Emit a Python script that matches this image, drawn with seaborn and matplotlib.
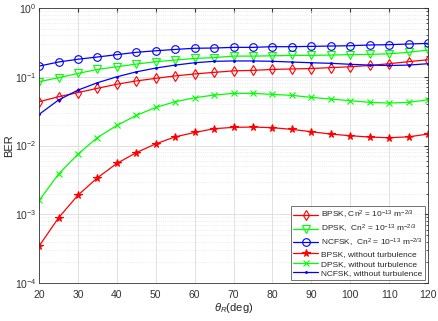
import numpy as np
import pandas as pd
import matplotlib
matplotlib.use("Agg")
import matplotlib.pyplot as plt
import seaborn as sns
from matplotlib.ticker import LogLocator, NullFormatter

theta = list(range(20, 121, 5))

bpsk_turb = [0.0434, 0.0513, 0.059, 0.068, 0.078, 0.087, 0.095, 0.103, 0.110, 0.116, 0.122,
             0.124, 0.128, 0.130, 0.132, 0.136, 0.140, 0.146, 0.155, 0.166, 0.177]
dpsk_turb = [0.0848, 0.097, 0.112, 0.128, 0.140, 0.153, 0.166, 0.175, 0.185, 0.190, 0.200,
             0.200, 0.202, 0.205, 0.205, 0.207, 0.210, 0.212, 0.216, 0.227, 0.245]
ncfsk_turb = [0.143, 0.164, 0.180, 0.194, 0.210, 0.227, 0.239, 0.250, 0.260, 0.262, 0.268,
              0.268, 0.274, 0.274, 0.277, 0.280, 0.283, 0.290, 0.293, 0.300, 0.306]
bpsk_noturb = [0.000345, 0.00089, 0.0019, 0.0034, 0.0055, 0.0079, 0.0106, 0.0134, 0.0155, 0.0176, 0.0184,
               0.0186, 0.0182, 0.0172, 0.0159, 0.0147, 0.0139, 0.0133, 0.0130, 0.0134, 0.0147]
dpsk_noturb = [0.00159, 0.00385, 0.0075, 0.0131, 0.0196, 0.0275, 0.0359, 0.0434, 0.0496, 0.0543, 0.0574,
               0.0574, 0.0555, 0.0537, 0.0502, 0.0475, 0.0449, 0.0425, 0.0415, 0.0425, 0.0464]
ncfsk_noturb = [0.0284, 0.046, 0.064, 0.082, 0.100, 0.118, 0.134, 0.148, 0.160, 0.168, 0.170,
                0.170, 0.168, 0.164, 0.160, 0.157, 0.152, 0.148, 0.146, 0.148, 0.155]

labels = [r"BPSK, Cn$^2$ = 10$^{-13}$ m$^{-2/3}$",
          r"DPSK,  Cn$^2$ = 10$^{-13}$ m$^{-2/3}$",
          r"NCFSK,  Cn$^2$ = 10$^{-13}$ m$^{-2/3}$",
          "BPSK, without turbulence",
          "DPSK, without turbulence",
          "NCFSK, without turbulence"]
series = [bpsk_turb, dpsk_turb, ncfsk_turb, bpsk_noturb, dpsk_noturb, ncfsk_noturb]
colors = ["#ff0000", "#00ff00", "#0000ff", "#ff0000", "#00ff00", "#0000ff"]
markers = ["d", "v", "o", "*", "x", "."]
msizes = [5.5, 5.5, 5.5, 5.5, 4, 2.5]

sns.set_style("white")
plt.rcParams['font.family'] = ['Liberation Sans', 'DejaVu Sans']
plt.rcParams['mathtext.fontset'] = 'custom'
plt.rcParams['mathtext.rm'] = 'Liberation Sans'
plt.rcParams['mathtext.it'] = 'Liberation Sans:italic'

fig = plt.figure(figsize=(4.39, 3.21), dpi=100)
ax = fig.add_axes([0.089, 0.118, 0.886, 0.857])

for lab, vals, c, m, ms in zip(labels, series, colors, markers, msizes):
    df = pd.DataFrame({"theta": theta, "BER": vals})
    filled = m in ("*", ".")
    sns.lineplot(data=df, x="theta", y="BER", ax=ax, color=c, marker=m, markersize=ms,
                 markerfacecolor=(c if filled else "none"), markeredgecolor=c,
                 markeredgewidth=0.8, linewidth=0.9, label=lab)

ax.set_yscale("log")
ax.set_xlim(20, 120)
ax.set_ylim(1e-4, 1)
ax.set_xticks(range(20, 121, 10))
ax.yaxis.set_major_locator(LogLocator(base=10, numticks=10))
ax.yaxis.set_minor_locator(LogLocator(base=10, subs=np.arange(2, 10), numticks=50))
ax.yaxis.set_minor_formatter(NullFormatter())
ax.grid(True, which="major", color="#dcdcdc", linewidth=0.6)
ax.grid(True, which="minor", axis="y", color="#e4e4e4", linestyle=":", linewidth=0.6)
ax.tick_params(which="both", direction="in", labelsize=7.5, colors="#333333", top=True, right=True)
ax.tick_params(axis="y", pad=2)
ax.tick_params(axis="x", pad=5)
ax.tick_params(which="major", length=3)
ax.tick_params(which="minor", length=1.5)
for s in ax.spines.values():
    s.set_color("#333333")
    s.set_linewidth(0.6)
ax.set_xlabel(r"$\theta_R$(deg)", fontsize=8, labelpad=1)
ax.set_ylabel("BER", fontsize=8, labelpad=0)

leg = ax.legend(loc="lower right", fontsize=6, frameon=True, fancybox=False,
                handlelength=3, borderpad=0.3, labelspacing=0.2, handletextpad=0.3,
                borderaxespad=0.4)
leg.get_frame().set_edgecolor("#333333")
leg.get_frame().set_linewidth(0.6)

fig.savefig("out.png", dpi=100)
